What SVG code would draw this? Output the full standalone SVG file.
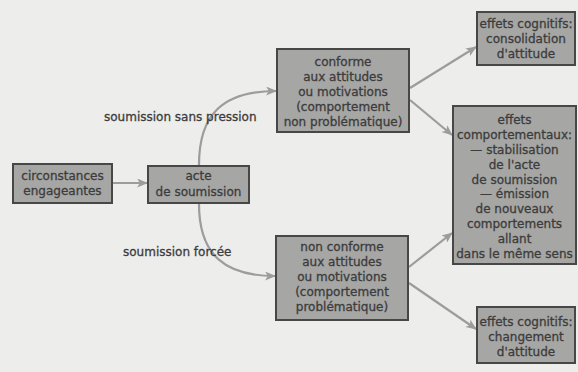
<svg xmlns="http://www.w3.org/2000/svg" width="578" height="372" viewBox="0 0 578 372">
<style>
.bg{fill:#ededeb}
.box{fill:#a6a6a4;stroke:#474747;stroke-width:2}
.t{font-family:"DejaVu Sans",sans-serif;font-size:12px;fill:#3c3c3c;stroke:#3c3c3c;stroke-width:0.3;text-anchor:middle}
.lbl{font-family:"DejaVu Sans",sans-serif;font-size:12px;fill:#3c3c3c;stroke:#3c3c3c;stroke-width:0.3}
.c{fill:none;stroke:#9c9c9c;stroke-width:2.2}
</style>
<defs>
<marker id="ah" viewBox="0 0 12 10" refX="11" refY="5" markerWidth="12" markerHeight="9" markerUnits="userSpaceOnUse" orient="auto">
<path d="M0,0 L12,5 L0,10 L3,5 z" fill="#9c9c9c"/>
</marker>
</defs>
<rect class="bg" x="0" y="0" width="578" height="372"/>
<g id="connectors">
<line class="c" x1="113" y1="183" x2="147" y2="183" marker-end="url(#ah)"/>
<path class="c" d="M199,165 C199,115 222,91 276,91" marker-end="url(#ah)"/>
<path class="c" d="M199,204 C199,255 225,276 275,276" marker-end="url(#ah)"/>
<line class="c" x1="410" y1="88" x2="476" y2="47" marker-end="url(#ah)"/>
<line class="c" x1="410" y1="100" x2="452" y2="135" marker-end="url(#ah)"/>
<line class="c" x1="409" y1="267" x2="452" y2="233" marker-end="url(#ah)"/>
<line class="c" x1="409" y1="283" x2="476" y2="329" marker-end="url(#ah)"/>
<text class="lbl" x="104" y="121">soumission sans pression</text>
<text class="lbl" x="123" y="256">soumission forcée</text>
</g>
<g id="circonstances">
<rect class="box" x="13" y="164" width="99" height="39"/>
<text class="t" x="62.5" y="180">circonstances</text>
<text class="t" x="62.5" y="195">engageantes</text>
</g>
<g id="acte">
<rect class="box" x="148" y="166" width="101" height="37"/>
<text class="t" x="198.5" y="180">acte</text>
<text class="t" x="198.5" y="196">de soumission</text>
</g>
<g id="conforme">
<rect class="box" x="277" y="49" width="132" height="83"/>
<text class="t" x="343" y="66">conforme</text>
<text class="t" x="343" y="81">aux attitudes</text>
<text class="t" x="343" y="96">ou motivations</text>
<text class="t" x="343" y="111">(comportement</text>
<text class="t" x="343" y="126">non problématique)</text>
</g>
<g id="non-conforme">
<rect class="box" x="276" y="236" width="132" height="84"/>
<text class="t" x="342" y="251">non conforme</text>
<text class="t" x="342" y="266">aux attitudes</text>
<text class="t" x="342" y="281">ou motivations</text>
<text class="t" x="342" y="296">(comportement</text>
<text class="t" x="342" y="311">problématique)</text>
</g>
<g id="cognitifs-consolidation">
<rect class="box" x="477" y="12" width="98" height="53"/>
<text class="t" x="526" y="28">effets cognitifs:</text>
<text class="t" x="526" y="43">consolidation</text>
<text class="t" x="526" y="57.5">d'attitude</text>
</g>
<g id="comportementaux">
<rect class="box" x="453" y="106" width="123" height="158"/>
<text class="t" x="514.5" y="124.3">effets</text>
<text class="t" x="514.5" y="139.1">comportementaux:</text>
<text class="t" x="514.5" y="153.9">— stabilisation</text>
<text class="t" x="514.5" y="168.7">de l'acte</text>
<text class="t" x="514.5" y="183.5">de soumission</text>
<text class="t" x="514.5" y="198.3">— émission</text>
<text class="t" x="514.5" y="213.1">de nouveaux</text>
<text class="t" x="514.5" y="227.9">comportements</text>
<text class="t" x="514.5" y="242.7">allant</text>
<text class="t" x="514.5" y="257.5">dans le même sens</text>
</g>
<g id="cognitifs-changement">
<rect class="box" x="477" y="307" width="98" height="56"/>
<text class="t" x="526" y="326">effets cognitifs:</text>
<text class="t" x="526" y="341">changement</text>
<text class="t" x="526" y="356">d'attitude</text>
</g>
</svg>
